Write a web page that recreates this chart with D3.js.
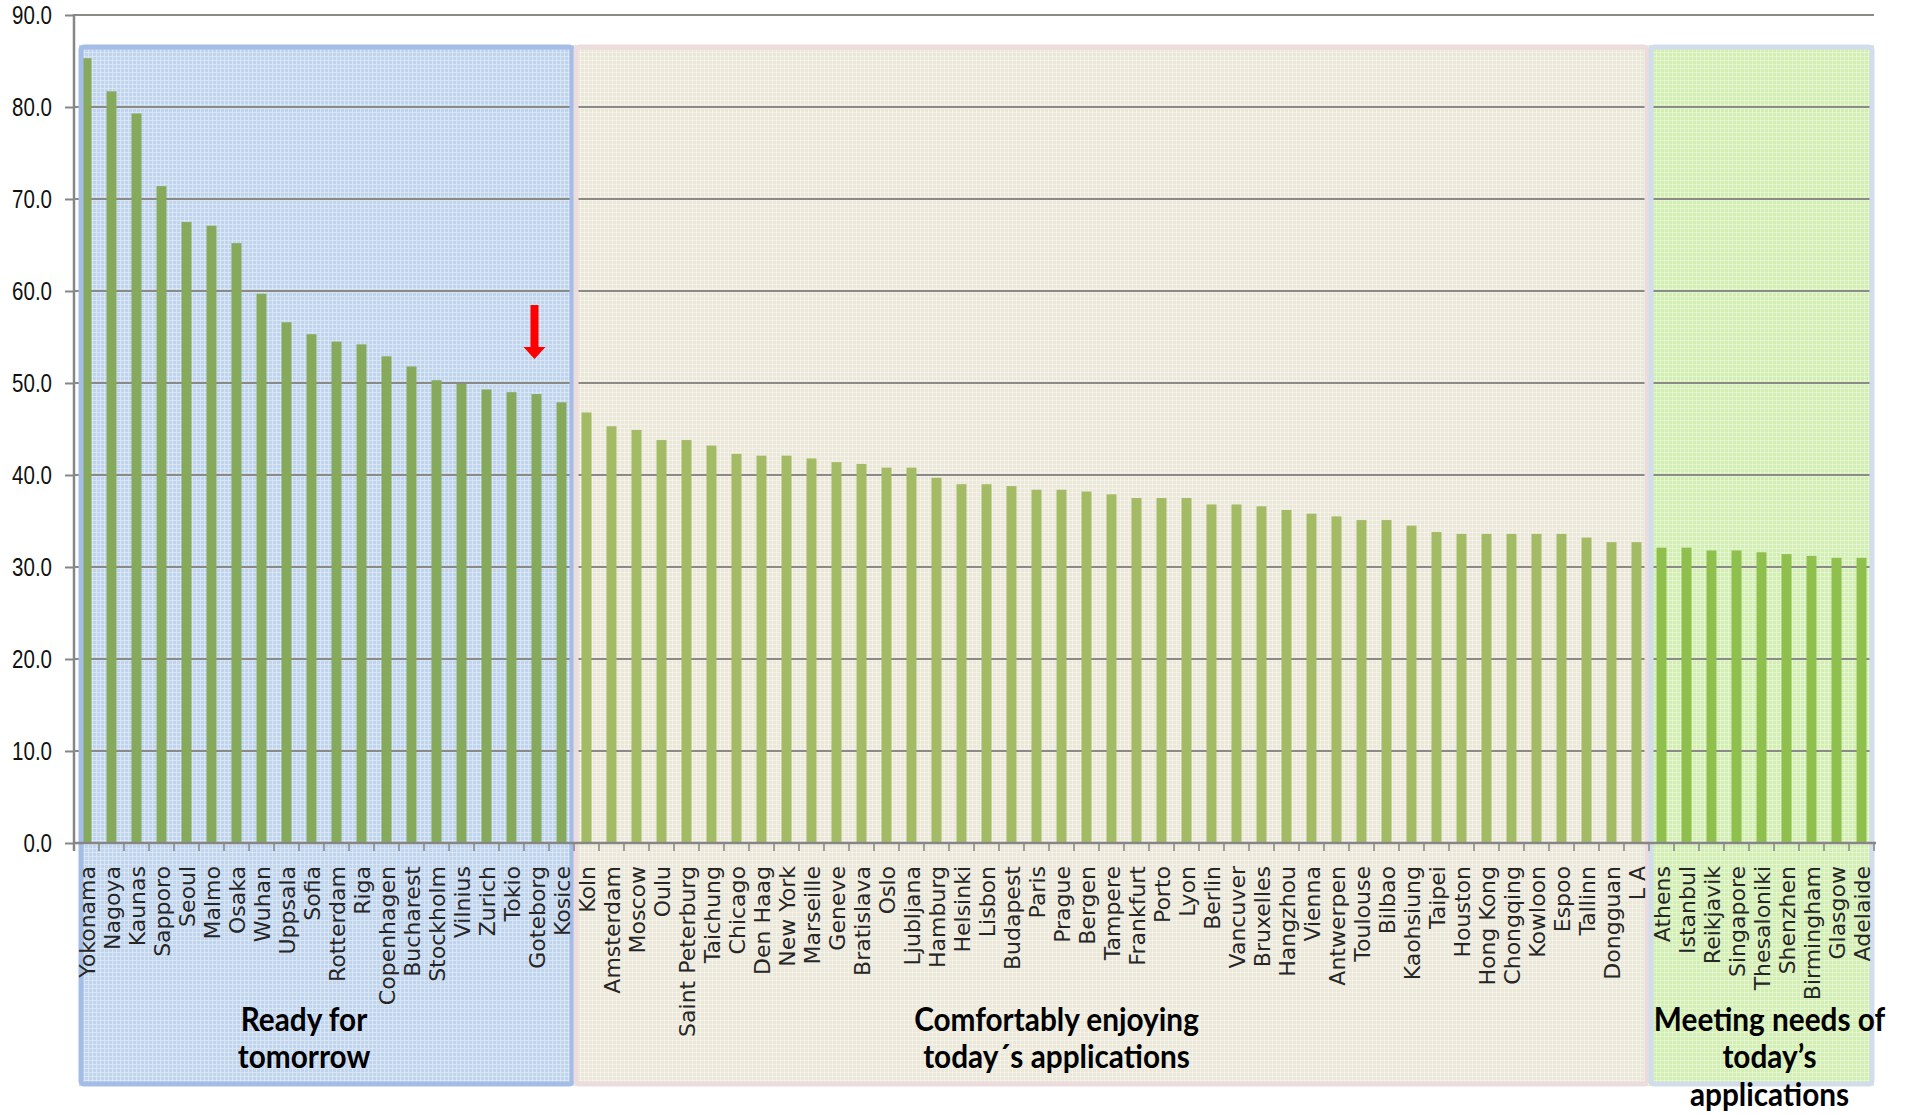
<!DOCTYPE html>
<html>
<head>
<meta charset="utf-8">
<script src="https://cdn.jsdelivr.net/npm/d3@7"></script>
<style>
  html, body { margin: 0; padding: 0; background: #ffffff; }
  svg { display: block; }
</style>
</head>
<body>
<svg id="chart" width="1910" height="1115"></svg>
<script>
// ---------------- DATA ----------------
const readyCities = ["Yokonama","Nagoya","Kaunas","Sapporo","Seoul","Malmo","Osaka","Wuhan","Uppsala","Sofia","Rotterdam","Riga","Copenhagen","Bucharest","Stockholm","Vilnius","Zurich","Tokio","Goteborg","Kosice"];
const readyValues = [85.3,81.7,79.3,71.4,67.5,67.1,65.2,59.7,56.6,55.3,54.5,54.2,52.9,51.8,50.3,49.9,49.3,49.0,48.8,47.9];

const comfortCities = ["Koln","Amsterdam","Moscow","Oulu","Saint Peterburg","Taichung","Chicago","Den Haag","New York","Marseille","Geneve","Bratislava","Oslo","Ljubljana","Hamburg","Helsinki","Lisbon","Budapest","Paris","Prague","Bergen","Tampere","Frankfurt","Porto","Lyon","Berlin","Vancuver","Bruxelles","Hangzhou","Vienna","Antwerpen","Toulouse","Bilbao","Kaohsiung","Taipei","Houston","Hong Kong","Chongqing","Kowloon","Espoo","Tallinn","Dongguan","L A"];
const comfortValues = [46.8,45.3,44.9,43.8,43.8,43.2,42.3,42.1,42.1,41.8,41.4,41.2,40.8,40.8,39.7,39.0,39.0,38.8,38.4,38.4,38.2,37.9,37.5,37.5,37.5,36.8,36.8,36.6,36.2,35.8,35.5,35.1,35.1,34.5,33.8,33.6,33.6,33.6,33.6,33.6,33.2,32.7,32.7];

const meetingCities = ["Athens","Istanbul","Reikjavik","Singapore","Thesaloniki","Shenzhen","Birmingham","Glasgow","Adelaide"];
const meetingValues = [32.1,32.1,31.8,31.8,31.6,31.4,31.2,31.0,31.0];

const groupTitles = [
  ["Ready for", "tomorrow"],
  ["Comfortably enjoying", "today\u00B4s applications"],
  ["Meeting needs of", "today\u2019s", "applications"]
];
const yTickValues = [0,10,20,30,40,50,60,70,80,90];
const markedCity = "Goteborg";

// ---------------- BUILD ----------------
const groups = [
  { key: "ready",   cities: readyCities,   values: readyValues,   title: groupTitles[0] },
  { key: "comfort", cities: comfortCities, values: comfortValues, title: groupTitles[1] },
  { key: "meeting", cities: meetingCities, values: meetingValues, title: groupTitles[2] }
];
const rows = [];
groups.forEach(g => g.cities.forEach((c, i) => rows.push({ city: c, value: g.values[i], group: g.key })));

// layout / style (kept separate from data)
const plotL = 74, plotR = 1874, plotT = 15, plotB = 843;
const style = {
  ready:   { fill: "#c1d4ee", tex: "#e6eef9", border: "#a3bde6", bar: "#86a95c", shift: -20 },
  comfort: { fill: "#ebe8da", tex: "#f9f7f0", border: "#eddcdd", bar: "#a4bb66", shift: -55 },
  meeting: { fill: "#d2eeb3", tex: "#eefadf", border: "#d2ddec", bar: "#8fc04e", shift: 8 }
};
const regionTop = 45, regionBottom = 1086;
const narrow = 0.82;

const svg = d3.select("#chart");

const x = d3.scaleBand()
  .domain(rows.map(d => d.city))
  .range([plotL, plotR])
  .paddingInner(0.6)
  .paddingOuter(0.3);
const step = x.step();
const y = d3.scaleLinear().domain([0, 90]).range([plotB, plotT]);

// patterns (texture)
const defs = svg.append("defs");
Object.keys(style).forEach(k => {
  const p = defs.append("pattern")
    .attr("id", "tex-" + k).attr("patternUnits", "userSpaceOnUse")
    .attr("width", 4).attr("height", 4);
  p.append("rect").attr("x", 0).attr("y", 0).attr("width", 4).attr("height", 1)
    .attr("fill", style[k].tex).attr("fill-opacity", 0.6);
  p.append("rect").attr("x", 0).attr("y", 0).attr("width", 1).attr("height", 4)
    .attr("fill", style[k].tex).attr("fill-opacity", 0.6);
});

// region extents derived from band positions
const regions = groups.map((g, gi) => {
  const first = x(g.cities[0]) - step * x.paddingInner() / 2;
  const last = x(g.cities[g.cities.length - 1]) + x.bandwidth() + step * x.paddingInner() / 2;
  const x0 = gi === 0 ? first + 5 : first;
  return { key: g.key, x0, x1: last, title: g.title, cx: (x(g.cities[0]) + x(g.cities[g.cities.length - 1]) + x.bandwidth()) / 2 };
});

// region fills + texture
svg.append("g").selectAll("rect").data(regions).join("rect")
  .attr("x", d => d.x0).attr("y", regionTop)
  .attr("width", d => d.x1 - d.x0).attr("height", regionBottom - regionTop)
  .attr("fill", d => style[d.key].fill);
svg.append("g").selectAll("rect").data(regions).join("rect")
  .attr("x", d => d.x0).attr("y", regionTop)
  .attr("width", d => d.x1 - d.x0).attr("height", regionBottom - regionTop)
  .attr("fill", d => "url(#tex-" + d.key + ")");

// gridlines
svg.append("g").selectAll("line").data(yTickValues.filter(v => v > 0)).join("line")
  .attr("x1", plotL).attr("x2", plotR)
  .attr("y1", d => y(d)).attr("y2", d => y(d))
  .attr("stroke", "#8b8a86").attr("stroke-width", 2);

// bars
svg.append("g").selectAll("rect").data(rows).join("rect")
  .attr("x", d => x(d.city)).attr("width", x.bandwidth())
  .attr("y", d => y(d.value)).attr("height", d => y(0) - y(d.value))
  .attr("fill", d => style[d.group].bar);

// region borders
svg.append("g").selectAll("rect").data(regions).join("rect")
  .attr("x", d => d.x0 + 2).attr("y", regionTop + 2)
  .attr("width", d => d.x1 - d.x0 - 4).attr("height", regionBottom - regionTop - 4)
  .attr("fill", "none").attr("rx", 3)
  .attr("stroke", d => style[d.key].border).attr("stroke-width", 5);

// y axis
const yAxis = svg.append("g").attr("transform", `translate(${plotL},0)`)
  .call(d3.axisLeft(y).tickValues(yTickValues).tickFormat(d3.format(".1f")).tickSize(9).tickPadding(13));
yAxis.select(".domain").attr("stroke", "#868686").attr("stroke-width", 2.5).attr("d", `M0,${plotB + 8}V${plotT - 1}`);
yAxis.selectAll(".tick line").attr("stroke", "#868686").attr("stroke-width", 2);
yAxis.selectAll(".tick text")
  .attr("fill", "#111")
  .attr("x", -22 / narrow)
  .attr("transform", `scale(${narrow},1)`)
  .style("font-family", "'Liberation Sans', Arial, sans-serif")
  .style("font-size", "25px");

// x axis line + ticks at band boundaries
const xAxis = svg.append("g");
xAxis.append("line").attr("x1", plotL).attr("x2", plotR + 2)
  .attr("y1", plotB).attr("y2", plotB)
  .attr("stroke", "#868686").attr("stroke-width", 2.5);
const boundaries = rows.map(d => x(d.city) - step * x.paddingInner() / 2).concat([plotR]);
xAxis.selectAll("line.tk").data(boundaries).join("line").attr("class", "tk")
  .attr("x1", d => d).attr("x2", d => d)
  .attr("y1", plotB).attr("y2", plotB + 8)
  .attr("stroke", "#868686").attr("stroke-width", 1.5);

// category labels (rotated)
svg.append("g").selectAll("text").data(rows).join("text")
  .attr("transform", d => `translate(${x(d.city) + x.bandwidth() / 2 + 1},${plotB + 23}) rotate(-90)`)
  .attr("text-anchor", "end")
  .attr("dy", "0.36em")
  .attr("fill", "#262626")
  .style("font-family", "'DejaVu Sans', Verdana, sans-serif")
  .style("font-size", "22px")
  .text(d => d.city);

// group titles
const titleScale = 0.93;
const titleG = svg.append("g")
  .style("font-family", "Lato, 'Liberation Sans', sans-serif")
  .style("font-weight", "bold")
  .style("font-size", "32px")
  .attr("fill", "#000");
regions.forEach(r => {
  const cx = r.cx + style[r.key].shift;
  const t = titleG.append("text").attr("text-anchor", "middle")
    .attr("transform", `translate(${cx},0) scale(${titleScale},1)`);
  r.title.forEach((line, i) => {
    t.append("tspan").attr("x", 0).attr("y", 1031 + i * 37.5).text(line);
  });
});

// red arrow above the marked city
const mc = x(markedCity) + x.bandwidth() / 2 - 2;
const tip = y(readyValues[readyCities.indexOf(markedCity)]) - 35;
svg.append("path")
  .attr("d", `M${mc - 4},${tip - 54} H${mc + 4} V${tip - 12} H${mc + 11} L${mc},${tip} L${mc - 11},${tip - 12} H${mc - 4} Z`)
  .attr("fill", "#ff0000");
</script>
</body>
</html>
